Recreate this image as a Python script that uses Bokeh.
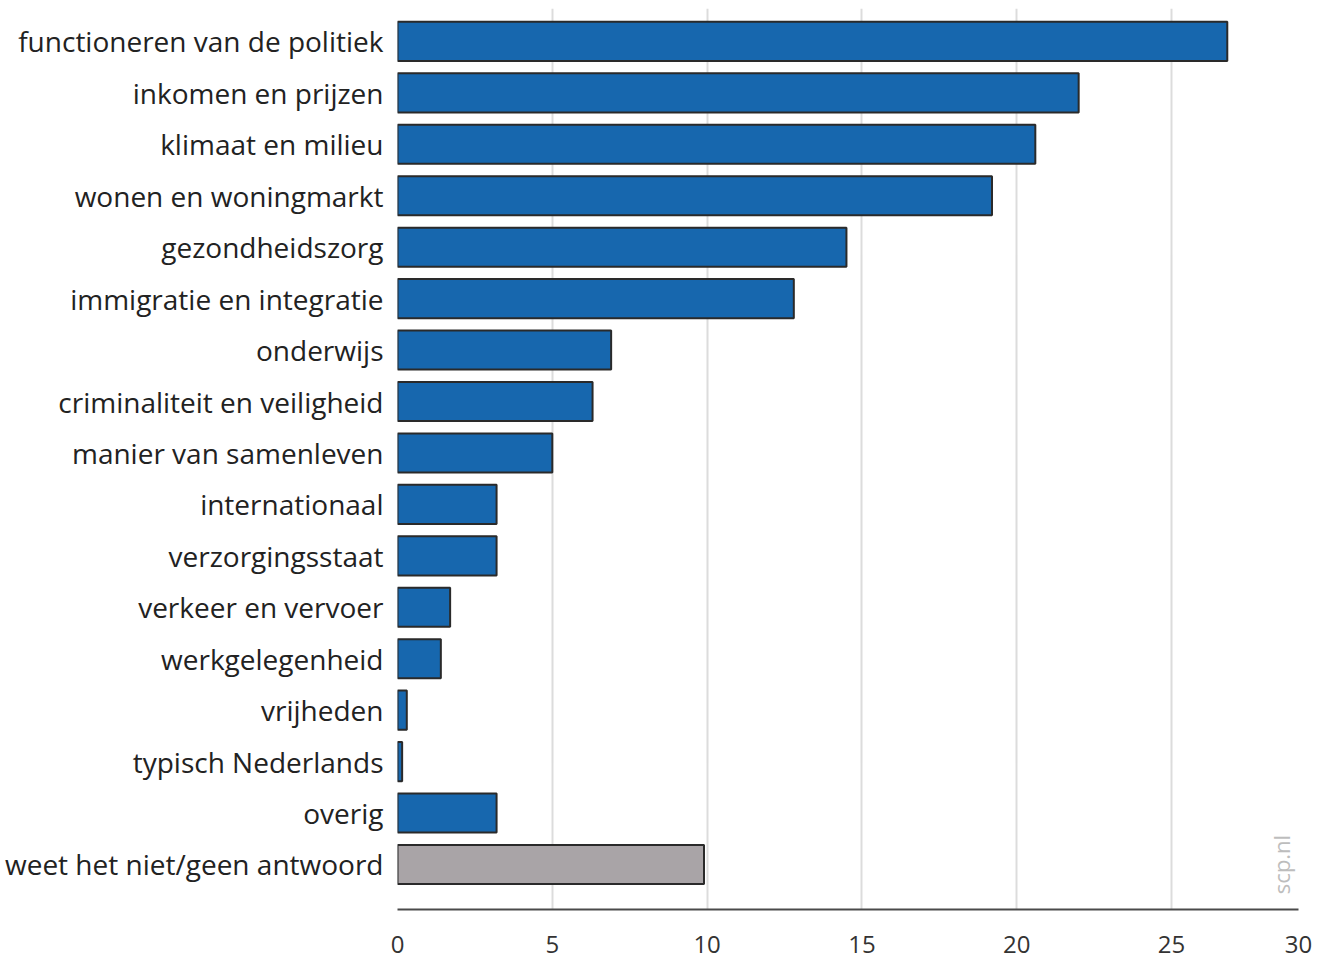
import math
from bokeh.plotting import figure
from bokeh.models import Range1d, FixedTicker, Label, ColumnDataSource
from bokeh.embed import file_html
from bokeh.resources import INLINE

categories = [
    "functioneren van de politiek", "inkomen en prijzen", "klimaat en milieu",
    "wonen en woningmarkt", "gezondheidszorg", "immigratie en integratie",
    "onderwijs", "criminaliteit en veiligheid", "manier van samenleven",
    "internationaal", "verzorgingsstaat", "verkeer en vervoer",
    "werkgelegenheid", "vrijheden", "typisch Nederlands", "overig",
    "weet het niet/geen antwoord",
]
values = [26.8, 22.0, 20.6, 19.2, 14.5, 12.8, 6.9, 6.3, 5.0, 3.2, 3.2, 1.7, 1.4, 0.3, 0.15, 3.2, 9.9]
colors = ["#1767ae"] * 16 + ["#a9a4a7"]
x_ticks = [0, 5, 10, 15, 20, 25, 30]

pos = list(range(len(categories)))
src = ColumnDataSource(dict(y=pos, v=values, c=colors))

XMAX = 29.1
p = figure(width=1319, height=958, output_backend="svg", toolbar_location=None,
           x_range=Range1d(0, XMAX), y_range=Range1d(16.875, -0.64),
           min_border_left=397, min_border_right=21, min_border_top=8, min_border_bottom=49)
p.outline_line_color = None
p.background_fill_color = "white"

p.hbar(y="y", left=0, right="v", height=0.76, source=src, fill_color="c",
       line_color="#2a2a2a", line_width=2)

# x axis
tick_pos = [t if t < 30 else XMAX for t in x_ticks]
p.xaxis.ticker = FixedTicker(ticks=tick_pos)
p.xaxis.major_label_overrides = {XMAX: "30"}
p.xaxis.major_tick_line_color = None
p.xaxis.minor_tick_line_color = None
p.xaxis.axis_line_color = "#4a4a4a"
p.xaxis.axis_line_width = 2
p.xaxis.major_label_text_font = "Open Sans"
p.xaxis.major_label_text_font_size = "24px"
p.xaxis.major_label_text_color = "#333333"
p.xaxis.major_label_standoff = 20

p.xgrid.ticker = FixedTicker(ticks=tick_pos)
p.xgrid.grid_line_color = "#dcdcdc"
p.xgrid.grid_line_width = 2
p.ygrid.grid_line_color = None

# y axis
p.yaxis.ticker = FixedTicker(ticks=pos)
p.yaxis.major_label_overrides = {i: c for i, c in enumerate(categories)}
p.yaxis.major_tick_line_color = None
p.yaxis.minor_tick_line_color = None
p.yaxis.axis_line_color = None
p.yaxis.major_label_text_font = "Open Sans"
p.yaxis.major_label_text_font_size = "28px"
p.yaxis.major_label_text_color = "#222222"
p.yaxis.major_label_standoff = 8

p.add_layout(Label(x=28.55, y=16.0, text="scp.nl", angle=math.pi / 2,
                   text_align="center", text_baseline="middle",
                   text_font="Open Sans", text_font_size="22px", text_color="#bdbdbd"))

open("out.html", "w").write(file_html(p, INLINE))
